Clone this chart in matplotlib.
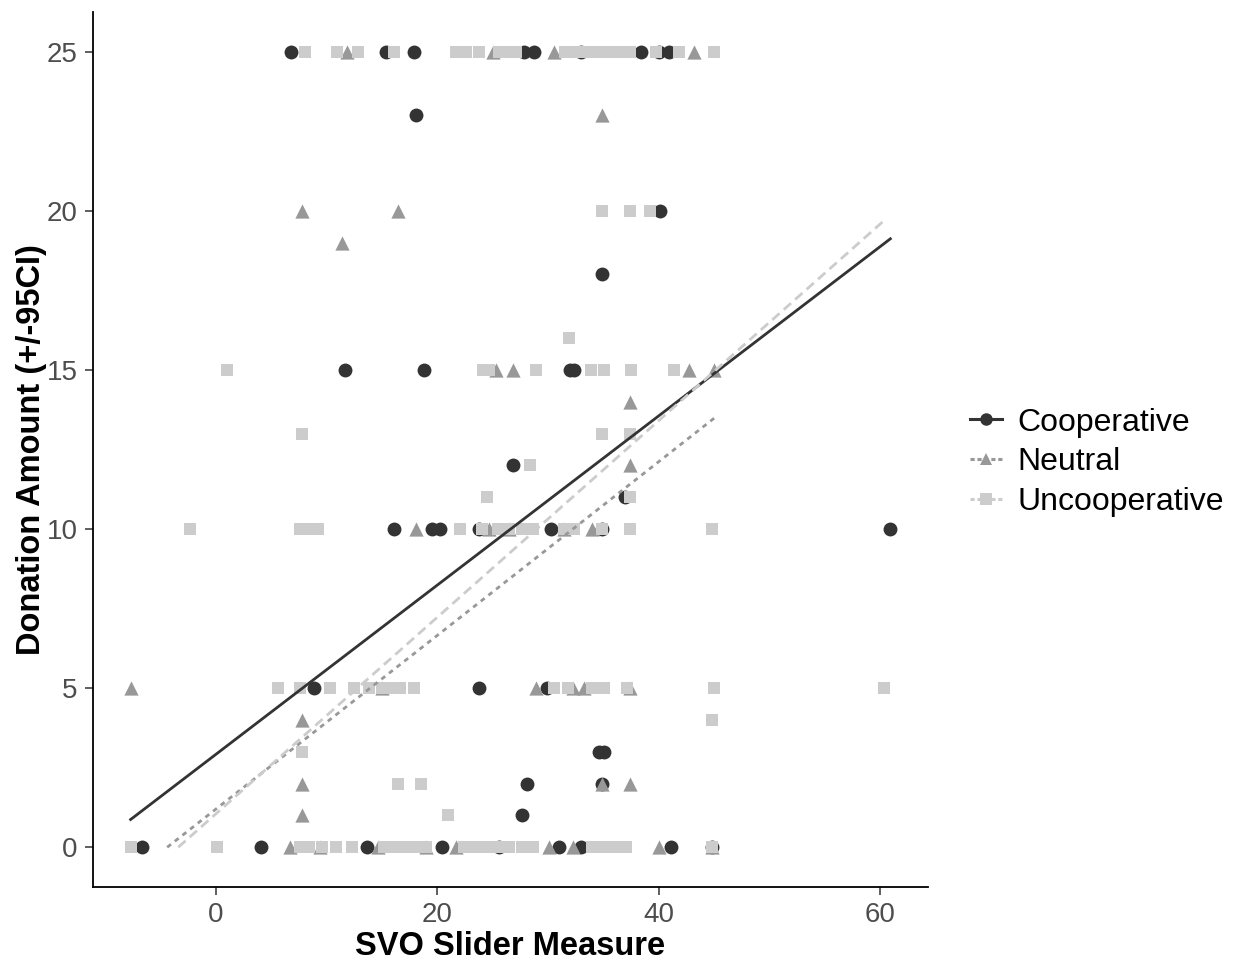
import numpy as np
import matplotlib
matplotlib.use("Agg")
import matplotlib.pyplot as plt
from matplotlib.lines import Line2D

plt.rcParams['font.family'] = ['Liberation Sans', 'DejaVu Sans']
plt.rcParams['lines.scale_dashes'] = False

groups = ['Cooperative', 'Neutral', 'Uncooperative']

# Cooperative (circles)
coop_x = [6.8, 15.4, 17.9, 27.8, 28.7, 33.0, 38.4, 40.0, 40.9,
          18.1, 40.1, 34.9,
          11.7, 18.8, 32.0, 32.3,
          26.8, 36.9,
          16.1, 19.5, 20.2, 23.8, 30.3, 34.9, 60.9,
          8.9, 23.8, 29.9,
          34.6, 35.0, 28.1, 34.9, 27.6,
          -6.7, 4.1, 13.6, 20.4, 25.6, 31.0, 33.0, 41.1, 44.8]
coop_y = [25, 25, 25, 25, 25, 25, 25, 25, 25,
          23, 20, 18,
          15, 15, 15, 15,
          12, 11,
          10, 10, 10, 10, 10, 10, 10,
          5, 5, 5,
          3, 3, 2, 2, 1,
          0, 0, 0, 0, 0, 0, 0, 0, 0]

# Neutral (triangles)
neut_x = [11.8, 25.0, 30.5, 43.2,
          34.9, 7.8, 16.4, 11.4,
          25.3, 26.8, 42.7, 45.0,
          37.4, 37.4,
          18.1, 24.7, 26.5, 34.0, 31.4,
          -7.7, 15.0, 28.9, 32.2, 33.2, 37.4,
          7.8, 7.8, 34.9, 37.4, 7.8,
          6.7, 9.4, 14.6, 19.0, 21.7, 30.1, 32.2, 40.0, 44.8]
neut_y = [25, 25, 25, 25,
          23, 20, 20, 19,
          15, 15, 15, 15,
          14, 12,
          10, 10, 10, 10, 10,
          5, 5, 5, 5, 5, 5,
          4, 2, 2, 2, 1,
          0, 0, 0, 0, 0, 0, 0, 0, 0]

# Uncooperative (squares)
unco_x = [8.0, 10.9, 12.8, 16.1, 21.7, 22.6, 23.8, 25.6, 26.4, 27.1, 31.5,
          32.3, 33.4, 34.2, 35.0, 35.8, 36.6, 37.4, 39.7, 41.8, 45.0,
          34.9, 37.4, 39.2,
          31.9,
          1.0, 24.1, 24.7, 28.9, 33.9, 35.0, 37.5, 41.4,
          7.8, 34.9, 37.4,
          28.4, 24.5, 37.4,
          -2.3, 7.6, 8.4, 9.2, 22.0, 24.0, 25.5, 26.5, 27.6, 28.6, 31.4, 32.3,
          34.9, 37.4, 44.8,
          5.6, 7.6, 10.3, 12.5, 13.8, 15.0, 16.0, 16.6, 17.9, 30.5, 31.8, 34.0,
          35.0, 37.1, 45.0, 60.3,
          44.8, 7.8, 16.4, 18.5, 21.0,
          -7.7, 0.1, 7.6, 8.4, 9.6, 10.8, 12.3, 15.2, 16.0, 17.0, 18.0, 19.0,
          22.4, 23.4, 24.5, 25.5, 26.5, 27.6, 28.6, 34.0, 35.0, 36.0, 37.0, 44.8]
unco_y = [25] * 21 + [20, 20, 20] + [16] + [15] * 8 + [13, 13, 13] + \
         [12, 11, 11] + [10] * 15 + [5] * 16 + [4, 3, 2, 2, 1] + [0] * 24

# fitted lines (intercept, slope, x start, x end)
fit_intercept = [2.92, 1.20, 1.05]
fit_slope = [0.266, 0.273, 0.309]
fit_xstart = [-7.7, -4.4, -3.4]
fit_xend = [60.9, 45.0, 60.3]

colors = ['#333333', '#989898', '#cccccc']
markers = ['o', '^', 's']
msizes = [100, 105, 85]
dashes = [None, (3.5, 3.5), (7, 4)]

fig = plt.figure(figsize=(12.38, 9.67), dpi=100)
ax = fig.add_axes([0.0751, 0.0827, 0.6745, 0.905])

xs = [coop_x, neut_x, unco_x]
ys = [coop_y, neut_y, unco_y]
for i in range(3):
    ax.scatter(xs[i], ys[i], marker=markers[i], s=msizes[i], color=colors[i],
               linewidths=0, zorder=2)

for i in range(3):
    lx = np.array([fit_xstart[i], fit_xend[i]])
    ly = fit_intercept[i] + fit_slope[i] * lx
    ln, = ax.plot(lx, ly, color=colors[i], lw=2.0, zorder=3)
    if dashes[i] is not None:
        ln.set_dashes(dashes[i])

ax.set_xlim(-11.1, 64.3)
ax.set_ylim(-1.25, 26.25)
ax.set_xticks([0, 20, 40, 60])
ax.set_yticks([0, 5, 10, 15, 20, 25])
for s in ['top', 'right']:
    ax.spines[s].set_visible(False)
for s in ['left', 'bottom']:
    ax.spines[s].set_linewidth(1.3)
ax.tick_params(axis='both', length=6, width=1.1, color='#333333',
               labelsize=20, labelcolor='#4d4d4d', pad=5)
ax.set_xlabel('SVO Slider Measure', fontsize=23.5, fontweight='bold', labelpad=2)
ax.set_ylabel('Donation Amount (+/-95CI)', fontsize=23.5, fontweight='bold', labelpad=0)

handles = []
for i in range(3):
    h = Line2D([0], [0], color=colors[i], lw=2.2, marker=markers[i],
               markersize=9, markeredgewidth=0)
    if dashes[i] is not None:
        h.set_dashes((3, 2))
    handles.append(h)
fig.legend(handles, groups, loc='center left', bbox_to_anchor=(0.760, 0.522),
           frameon=False, fontsize=23, handlelength=1.0, handletextpad=0.5,
           labelspacing=0.3)

fig.savefig('out.png', dpi=100)
